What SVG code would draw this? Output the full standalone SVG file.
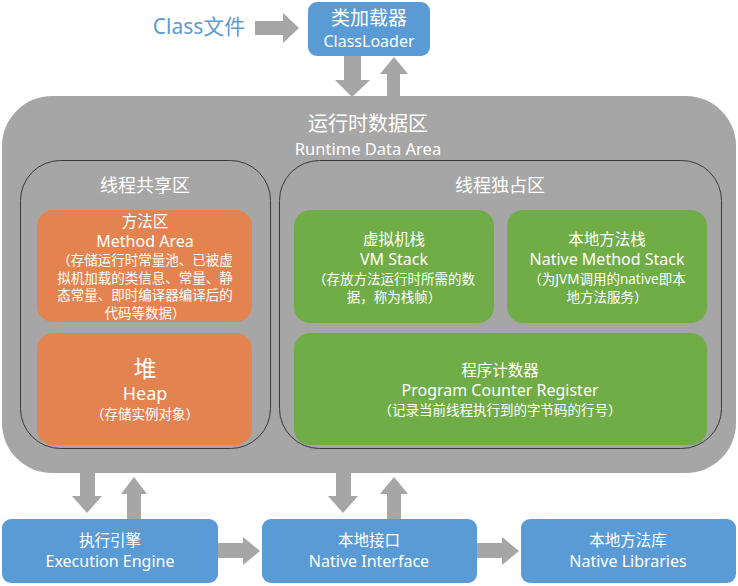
<svg xmlns="http://www.w3.org/2000/svg" width="738" height="586" viewBox="0 0 738 586">
<style>
text{font-family:"Noto Sans","Noto Sans CJK SC",sans-serif;fill:#fff;text-anchor:middle}
.blue{fill:#5B9BD5}
.org{fill:#E3834F}
.grn{fill:#70AD47}
.arr{fill:#A6A6A6}
.sub{fill:#A6A6A6;stroke:#3a3a3a;stroke-width:1}
.t1{font-size:18px}
.cn{font-size:15.5px}
.en{font-size:16px}
.t3{font-size:13.5px}
</style>
<rect width="738" height="586" fill="#fff"/>
<g id="connectors">
<polygon class="arr" points="255,21 283,21 283,13 299,28 283,43 283,35 255,35"/>
<polygon class="arr" points="344,56 361,56 361,80 370,80 352,97 335,80 344,80"/>
<polygon class="arr" points="387,97 400,97 400,74 408,74 394,57 380,74 387,74"/>
<polygon class="arr" points="80,473 95,473 95,496 102,496 87,513 72,496 80,496"/>
<polygon class="arr" points="127,519 141,519 141,494 147,494 134,477 121,494 127,494"/>
<polygon class="arr" points="336,473 351,473 351,496 358,496 343,513 328,496 336,496"/>
<polygon class="arr" points="387,519 401,519 401,494 408,494 394,477 380,494 387,494"/>
<polygon class="arr" points="218,543 243,543 243,537 260,551 243,565 243,558 218,558"/>
<polygon class="arr" points="477,543 502,543 502,537 519,551 502,565 502,558 477,558"/>
</g>
<g id="classfile">
<text x="199" y="34" style="font-size:21px;fill:#5B9BD5">Class文件</text>
</g>
<g id="classloader">
<rect class="blue" x="308" y="2" width="122" height="54" rx="9"/>
<text x="369" y="25" style="font-size:19px">类加载器</text>
<text x="369" y="47" style="font-size:16px">ClassLoader</text>
</g>
<g id="runtime">
<rect class="arr" x="2" y="96" width="734" height="377" rx="50"/>
<text x="368" y="131" style="font-size:20px">运行时数据区</text>
<text x="368" y="155" style="font-size:16.5px">Runtime Data Area</text>
</g>
<g id="shared">
<rect class="sub" x="20.5" y="160.5" width="250" height="288" rx="40"/>
<text x="145" y="192" class="t1">线程共享区</text>
</g>
<g id="private">
<rect class="sub" x="279.5" y="160.5" width="442" height="288" rx="40"/>
<text x="500" y="192" class="t1">线程独占区</text>
</g>
<g id="method">
<rect class="org" x="37" y="210" width="215" height="112" rx="16"/>
<text x="145" y="227" class="cn">方法区</text>
<text x="145" y="247" class="en">Method Area</text>
<text x="145" y="265" class="t3">（存储运行时常量池、已被虚</text>
<text x="145" y="282.5" class="t3">拟机加载的类信息、常量、静</text>
<text x="145" y="300" class="t3">态常量、即时编译器编译后的</text>
<text x="145" y="317.5" class="t3">代码等数据）</text>
</g>
<g id="heap">
<rect class="org" x="37" y="333" width="215" height="112" rx="16"/>
<text x="145" y="377" style="font-size:23px">堆</text>
<text x="145" y="400" style="font-size:18px">Heap</text>
<text x="145" y="419" class="t3">（存储实例对象）</text>
</g>
<g id="vmstack">
<rect class="grn" x="294" y="210" width="200" height="113" rx="16"/>
<text x="394" y="245" class="cn">虚拟机栈</text>
<text x="394" y="265" class="en">VM Stack</text>
<text x="394" y="284" class="t3">（存放方法运行时所需的数</text>
<text x="394" y="302" class="t3">据，称为栈帧）</text>
</g>
<g id="nativestack">
<rect class="grn" x="507" y="210" width="200" height="113" rx="16"/>
<text x="607" y="245" class="cn">本地方法栈</text>
<text x="607" y="265" class="en">Native Method Stack</text>
<text x="607" y="284" class="t3">（为JVM调用的native即本</text>
<text x="607" y="302" class="t3">地方法服务）</text>
</g>
<g id="pc">
<rect class="grn" x="294" y="333" width="413" height="112" rx="16"/>
<text x="500" y="376" class="cn">程序计数器</text>
<text x="500" y="396" class="en">Program Counter Register</text>
<text x="500" y="415" class="t3">（记录当前线程执行到的字节码的行号）</text>
</g>
<g id="engine">
<rect class="blue" x="2" y="519" width="216" height="64" rx="9"/>
<text x="110" y="546" class="cn">执行引擎</text>
<text x="110" y="567" class="en">Execution Engine</text>
</g>
<g id="nativeif">
<rect class="blue" x="262" y="519" width="215" height="64" rx="9"/>
<text x="369" y="546" class="cn">本地接口</text>
<text x="369" y="567" class="en">Native Interface</text>
</g>
<g id="nativelib">
<rect class="blue" x="521" y="519" width="215" height="64" rx="9"/>
<text x="628" y="546" class="cn">本地方法库</text>
<text x="628" y="567" class="en">Native Libraries</text>
</g>
</svg>
